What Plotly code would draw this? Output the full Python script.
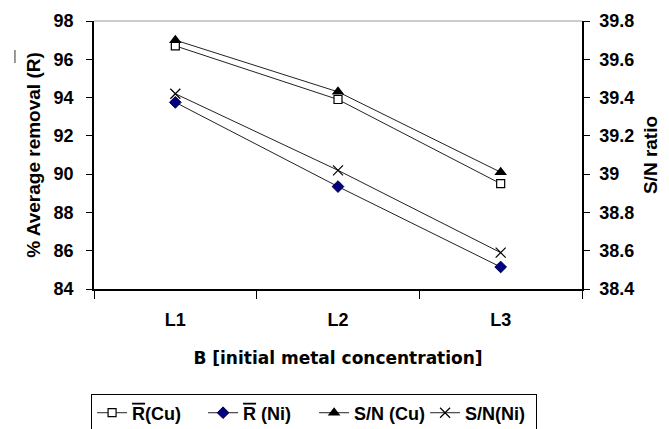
import plotly.graph_objects as go

categories = ["L1", "L2", "L3"]
r_cu = [96.7, 93.9, 89.5]
r_ni = [93.75, 89.35, 85.15]
sn_cu = [39.70, 39.43, 39.01]
sn_ni = [39.42, 39.02, 38.59]
legend_names = ["<span style='text-decoration:overline'>R</span>(Cu)",
                "<span style='text-decoration:overline'>R</span> (Ni)",
                "S/N (Cu)", "S/N(Ni)"]

FONT = "Liberation Sans, Arial, sans-serif"
WIDE = "DejaVu Sans, Liberation Sans, sans-serif"
line = dict(color="#222222", width=1)

fig = go.Figure()
fig.add_trace(go.Scatter(x=categories, y=r_cu, name=legend_names[0], mode="lines+markers",
                         line=line, marker=dict(symbol="square", size=8, color="white",
                                                line=dict(color="black", width=1.2))))
fig.add_trace(go.Scatter(x=categories, y=r_ni, name=legend_names[1], mode="lines+markers",
                         line=line, marker=dict(symbol="diamond", size=9, color="#000080",
                                                line=dict(color="#000040", width=1))))
fig.add_trace(go.Scatter(x=categories, y=sn_cu, name=legend_names[2], mode="lines+markers", yaxis="y2",
                         line=line, marker=dict(symbol="triangle-up", size=11, color="black")))
fig.add_trace(go.Scatter(x=categories, y=sn_ni, name=legend_names[3], mode="lines+markers", yaxis="y2",
                         line=line, marker=dict(symbol="x-thin", size=10,
                                                line=dict(color="black", width=1.2))))

tickfont = dict(family=FONT, size=18, color="black")
ytitlefont = dict(family=FONT, size=19, color="black")
xtitlefont = dict(family=WIDE, size=17, color="black")

fig.update_layout(
    width=669, height=429,
    margin=dict(l=94, r=87, t=21, b=140, autoexpand=False),
    paper_bgcolor="white", plot_bgcolor="white",
    font=dict(family=FONT, color="black"),
    showlegend=True,
    legend=dict(orientation="h", x=-0.006, xanchor="left", y=-0.39, yanchor="top",
                bordercolor="black", borderwidth=1,
                font=dict(family=FONT, size=18, color="black", weight="bold"),
                itemwidth=30, tracegroupgap=0, entrywidth=66, entrywidthmode="pixels"),
    xaxis=dict(type="category", tickson="boundaries", ticks="outside", ticklen=8, tickwidth=1,
               tickcolor="black", showline=True, linecolor="black", linewidth=1.5,
               showgrid=False, tickfont=tickfont, range=[-0.5, 2.5], ticklabelstandoff=14,
               title=dict(text="<b>B [initial metal concentration]</b>", font=xtitlefont, standoff=23)),
    yaxis=dict(range=[84, 98], dtick=2, ticks="outside", ticklen=6, tickcolor="black",
               showline=True, linecolor="black", linewidth=1.5, showgrid=False, zeroline=False,
               tickfont=tickfont, tickprefix="<b>", ticksuffix="</b>", ticklabelstandoff=9,
               title=dict(text="<b>% Average removal (R)</b>", font=ytitlefont, standoff=8)),
    yaxis2=dict(range=[38.4, 39.8], dtick=0.2, overlaying="y", side="right", ticks="outside",
                ticklen=6, tickcolor="black", showline=True, linecolor="black", linewidth=1.5,
                showgrid=False, zeroline=False, tickfont=tickfont, tickprefix="<b>", ticksuffix="</b>",
                ticklabelstandoff=6,
                title=dict(text="<b>S/N ratio</b>", font=ytitlefont, standoff=10)),
)
fig.update_xaxes(tickprefix="<b>", ticksuffix="</b>")

# top frame line (gray) and detached overbar of the left axis title
fig.add_shape(type="line", xref="paper", yref="paper", x0=1, x1=0, y0=1, y1=1,
              line=dict(color="#999999", width=1.2))
fig.add_shape(type="line", xref="paper", yref="paper", x0=-0.162, x1=-0.162, y0=0.892, y1=0.843,
              line=dict(color="#777777", width=1.5))

fig.write_html("out.html")
